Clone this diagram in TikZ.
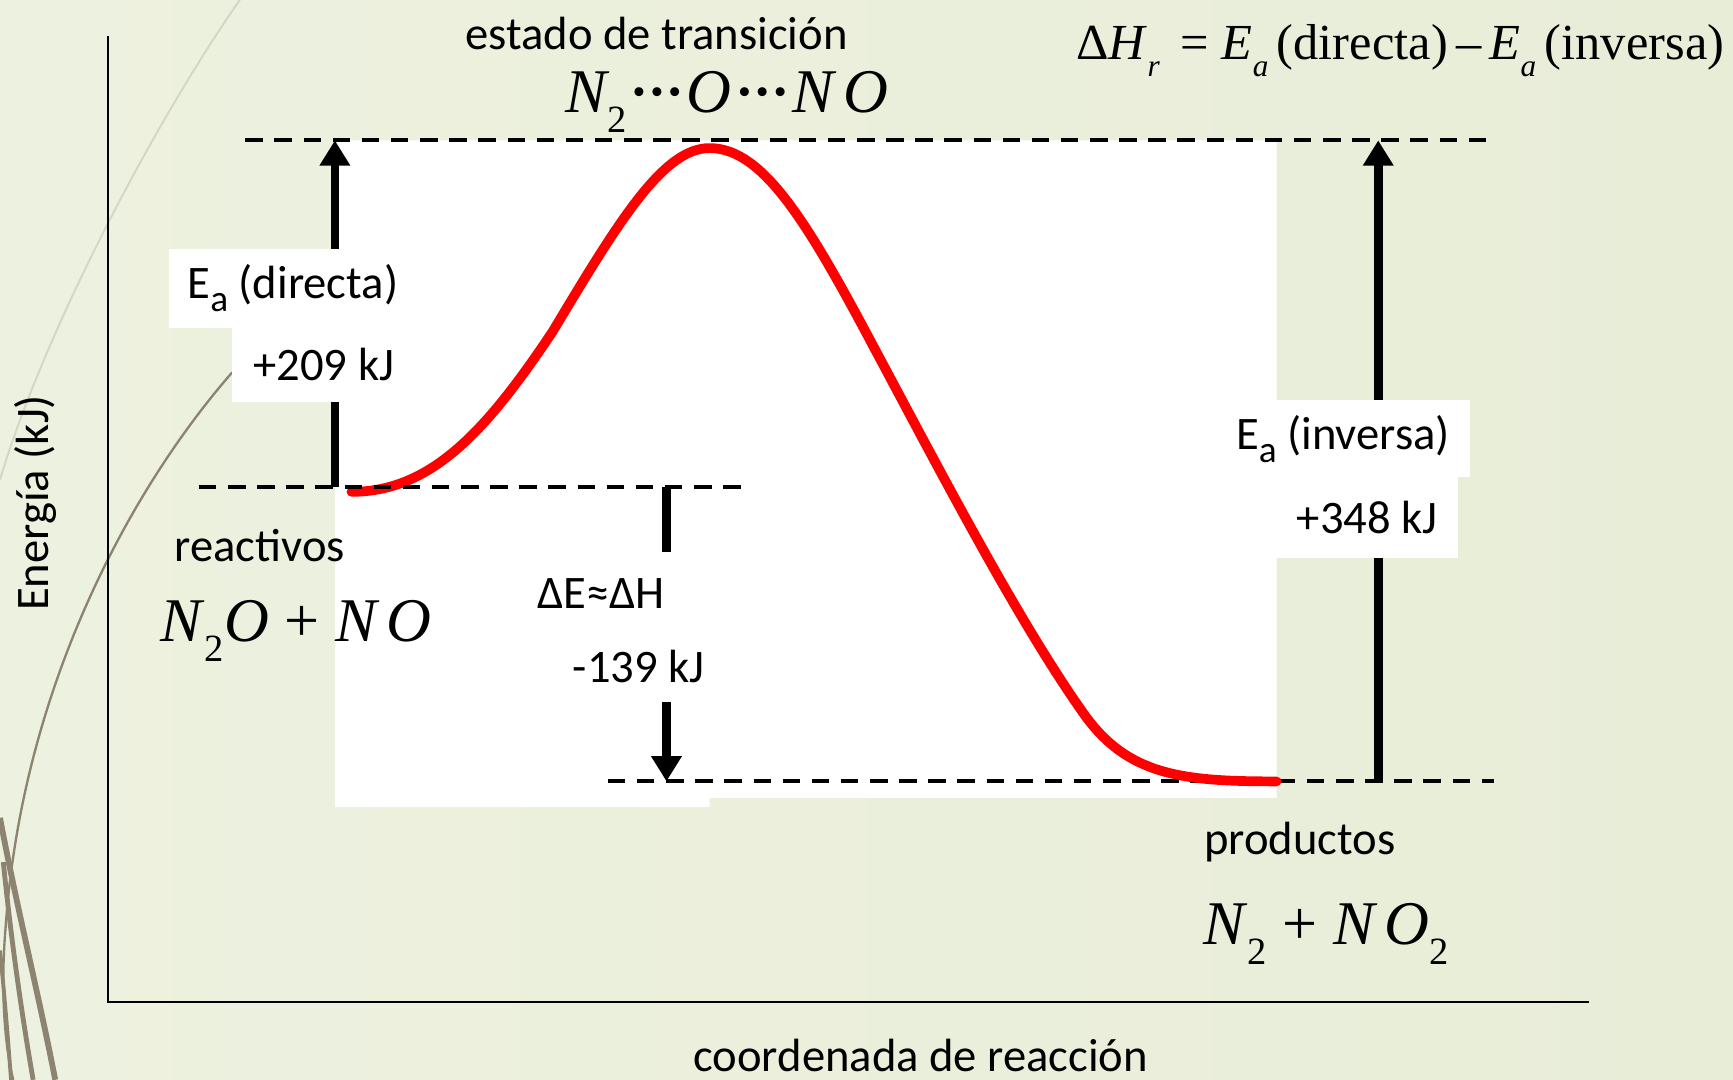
\documentclass[tikz,border=0pt]{standalone}
\usepackage{fontspec}
\setmainfont{Carlito}
\newfontfamily\tnr{Liberation Serif}
\usepackage{tikz}
\usetikzlibrary{arrows.meta}
\definecolor{bgleft}{HTML}{EDF1DF}
\definecolor{bgmid}{HTML}{F4F7EC}
\definecolor{bgright}{HTML}{E8EDD8}
\definecolor{swirl}{HTML}{8C8470}
\definecolor{swirllight}{HTML}{D6D6C4}
\newcommand{\lowsub}[1]{\raisebox{-0.33em}{\scalebox{0.62}{#1}}}
\newcommand{\esub}[1]{\raisebox{-0.28em}{\scalebox{0.8}{#1}}}
\newcommand{\tdot}{\raisebox{0.12em}{\scalebox{0.6}{•}}}
\newcommand{\tdots}{\kern3pt\tdot\kern2.5pt\tdot\kern2.5pt\tdot\kern3pt}

\begin{document}
\begin{tikzpicture}[
    x=0.02cm, y=-0.02cm,
    >={Triangle[width=15pt,length=13pt]},
    lbl/.style={font=\fontsize{24}{28}\selectfont, inner sep=0pt},
    frm/.style={font=\fontsize{32}{37}\selectfont\tnr, inner sep=0pt},
    tag/.style 2 args={lbl, fill=white, minimum width=#1, minimum height=#2},
    level/.style={dash pattern=on 9pt off 6pt, line width=2pt},
    jump/.style={->, line width=4.5pt},
    profile/.style={red, line width=5pt, line cap=round, line join=round}
]
\useasboundingbox (0,0) rectangle (1568,977);
\shade[left color=bgleft, middle color=bgmid, right color=bgright] (0,0) rectangle (1568,977);

\draw[swirllight, line width=1pt] (217,0) .. controls (140,110) and (40,300) .. (0,434);
\draw[swirl, line width=1.2pt] (210,337) .. controls (120,440) and (20,620) .. (5,840) .. controls (0,900) and (5,950) .. (12,977);
\draw[swirl, line width=3pt] (0,740) .. controls (15,820) and (35,900) .. (50,977);
\draw[swirl, line width=2.5pt] (3,780) .. controls (10,850) and (20,920) .. (30,977);
\draw[swirl, line width=2pt] (0,860) .. controls (5,910) and (8,950) .. (10,977);

\coordinate (ytop) at (98,33);
\coordinate (org) at (98,907);
\coordinate (xend) at (1438,907);
\draw[line width=1pt] (ytop) -- (org) -- (xend);

\fill[white] (303,127) -- (1155,127) -- (1155,722) -- (642,722) -- (642,730) -- (303,730) -- cycle;

\coordinate (tsL) at (222,127);
\coordinate (tsR) at (1352,127);
\coordinate (reL) at (180,441);
\coordinate (reR) at (676,441);
\coordinate (prL) at (550,707);
\coordinate (prR) at (1352,707);

\draw[level] (prL) -- (prR);
\draw[profile] (318,445) .. controls (390,445) and (440,390) .. (500,300)
  .. controls (560,200) and (600,134) .. (642,134)
  .. controls (690,134) and (730,200) .. (790,313)
  .. controls (850,425) and (920,560) .. (980,645)
  .. controls (1020,702) and (1070,707) .. (1155,707);
\draw[level] (tsL) -- (tsR);
\draw[level] (reL) -- (reR);

\coordinate (dirlow) at (303,441);
\coordinate (dirtop) at (303,127);
\coordinate (dhtop) at (603,441);
\coordinate (dhlow) at (603,707);
\coordinate (invlow) at (1247,707);
\coordinate (invtop) at (1247,127);
\draw[jump] (dirlow) -- (dirtop);
\draw[jump] (dhtop) -- (dhlow);
\draw[jump] (invlow) -- (invtop);

\node[tag={4.48cm}{1.42cm}] (eadir) at (265,261) {E\esub{a} (directa)};
\node[tag={3.34cm}{1.36cm}] (kjdir) at (293,330) {+209 kJ};
\node[tag={4.6cm}{1.4cm}] (eainv) at (1215,397) {E\esub{a} (inversa)};
\node[tag={3.3cm}{1.46cm}] (kjinv) at (1237,468) {+348 kJ};
\node[tag={3.6cm}{1.5cm}] (dE) at (544,537) {ΔE≈ΔH};
\node[tag={3.2cm}{1.3cm}] (dEkj) at (578,603) {-139 kJ};

\node[lbl] (tslbl) at (594,30) {estado de transición};
\node[frm] (tsform) at (658,92) {\itshape N\lowsub{\upshape 2}\tdots O\tdots N\,O};
\node[lbl, font=\fontsize{26}{30}\selectfont\tnr] (dHr) at (1267,46)
  {Δ\textit{H}\lowsub{\itshape r}\, = \textit{E}\lowsub{\itshape a}\,(directa)\,–\,\textit{E}\lowsub{\itshape a}\,(inversa)};
\node[lbl, rotate=90] (ylbl) at (32,455) {Energía (kJ)};
\node[lbl] (xlbl) at (833,955) {coordenada de reacción};
\node[lbl] (reaclbl) at (235,494) {reactivos};
\node[frm] (reacform) at (268,571) {\textit{N}\lowsub{2}\textit{O} + \textit{N\,O}};
\node[lbl] (prodlbl) at (1176,762) {productos};
\node[frm] (prodform) at (1200,845) {\textit{N}\lowsub{2} + \textit{N\,O}\lowsub{2}};
\end{tikzpicture}
\end{document}
